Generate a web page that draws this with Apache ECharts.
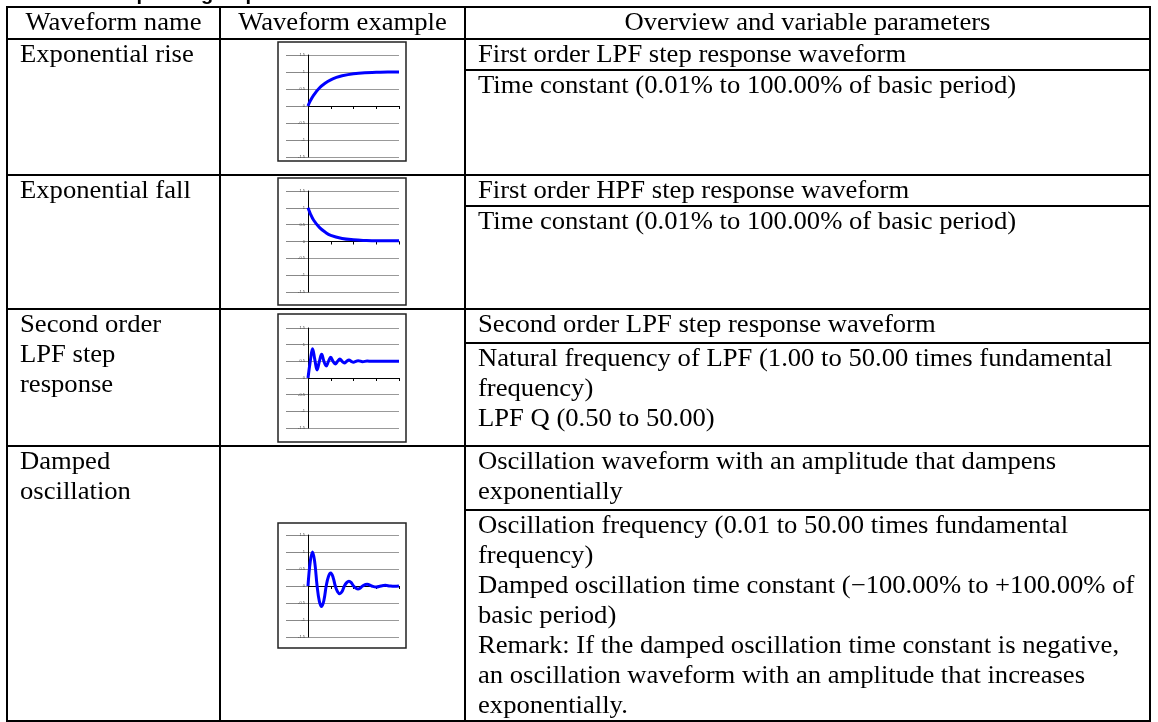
<!DOCTYPE html>
<html>
<head>
<meta charset="utf-8">
<script src="https://cdn.jsdelivr.net/npm/echarts@6/dist/echarts.min.js"></script>
<style>
html,body{margin:0;padding:0;background:#fff;}
#chart{width:1158px;height:722px;}
</style>
</head>
<body>
<div id="chart"></div>
<script>
// ---------- data ----------
const sectionTitle = 'Transient response group';
const headers = ['Waveform name', 'Waveform example', 'Overview and variable parameters'];
const waveNames = [
  ['Exponential rise'],
  ['Exponential fall'],
  ['Second order', 'LPF step', 'response'],
  ['Damped', 'oscillation']
];
const overviews = [
  ['First order LPF step response waveform'],
  ['First order HPF step response waveform'],
  ['Second order LPF step response waveform'],
  ['Oscillation waveform with an amplitude that dampens', 'exponentially']
];
const parameters = [
  ['Time constant (0.01% to 100.00% of basic period)'],
  ['Time constant (0.01% to 100.00% of basic period)'],
  ['Natural frequency of LPF (1.00 to 50.00 times fundamental', 'frequency)', 'LPF Q (0.50 to 50.00)'],
  ['Oscillation frequency (0.01 to 50.00 times fundamental', 'frequency)',
   'Damped oscillation time constant (\u2212100.00% to +100.00% of', 'basic period)',
   'Remark: If the damped oscillation time constant is negative,',
   'an oscillation waveform with an amplitude that increases', 'exponentially.']
];
const yTickLabels = ['-1.5', '-1', '-0.5', '0', '0.5', '1', '1.5'];

const riseData = [[0,0],[0.1,0.15],[0.25,0.32],[0.5,0.53],[0.75,0.67],[1,0.77],[1.25,0.84],[1.5,0.89],[2,0.95],[2.5,0.98],[3,0.99],[3.5,1],[4,1]];
const fallData = [[0,1],[0.1,0.83],[0.25,0.63],[0.5,0.42],[0.75,0.28],[1,0.18],[1.5,0.09],[2,0.05],[2.5,0.03],[3,0.02],[3.5,0.02],[4,0.02]];
const lpfData = [[0,0],[0.1,0.5],[0.2,0.88],[0.3,0.55],[0.4,0.24],[0.5,0.5],[0.6,0.71],[0.7,0.5],[0.8,0.36],[0.9,0.5],[1.0,0.62],[1.1,0.5],[1.2,0.42],[1.3,0.5],[1.4,0.57],[1.5,0.5],[1.6,0.45],[1.7,0.5],[1.8,0.54],[1.9,0.5],[2.0,0.47],[2.1,0.5],[2.2,0.52],[2.4,0.49],[2.6,0.51],[2.8,0.5],[3,0.5],[3.5,0.5],[4,0.5]];
const dampData = [[0,0],[0.1,0.72],[0.2,1.0],[0.3,0.68],[0.4,0],[0.5,-0.45],[0.6,-0.6],[0.7,-0.42],[0.8,0],[0.9,0.28],[1.0,0.38],[1.1,0.26],[1.2,0],[1.3,-0.17],[1.4,-0.23],[1.5,-0.16],[1.6,0],[1.7,0.1],[1.8,0.14],[1.9,0.1],[2.0,0],[2.1,-0.06],[2.2,-0.09],[2.3,-0.06],[2.4,0],[2.6,0.05],[2.8,0],[3.0,-0.03],[3.2,0],[3.4,0.02],[3.6,0],[3.8,-0.01],[4.0,0]];
const waveData = [riseData, fallData, lpfData, dampData];

// ---------- layout ----------
const colX = [7, 220, 465, 1150];
const rowY = [7, 39, 175, 309, 446, 721];
const subY = [70, 206, 343, 510];
const lineH = 30;
const fontMain = '25px "Liberation Serif", "Times New Roman", serif';
const textScaleX = 1.065;
const boxes = [
  {x: 278, y: 42, w: 128, h: 119, plotTop: 55, plotH: 102},
  {x: 278, y: 178, w: 128, h: 127, plotTop: 191, plotH: 101},
  {x: 278, y: 314, w: 128, h: 128, plotTop: 328, plotH: 100},
  {x: 278, y: 523, w: 128, h: 125, plotTop: 535, plotH: 102}
];
const plotLeft = 308, plotW = 91;

const graphics = [];
function hline(y, x1, x2) {
  graphics.push({type: 'line', shape: {x1: x1, y1: y, x2: x2, y2: y}, style: {stroke: '#000', lineWidth: 2}, z: 50});
}
function vline(x, y1, y2) {
  graphics.push({type: 'line', shape: {x1: x, y1: y1, x2: x, y2: y2}, style: {stroke: '#000', lineWidth: 2}, z: 50});
}
function txt(s, x, y, align) {
  graphics.push({type: 'text', x: x, y: y, z: 60, scaleX: textScaleX,
    style: {text: s, font: fontMain, fill: '#000', textAlign: align || 'left', textVerticalAlign: 'middle'}});
}

// title fragment (cut at top)
graphics.push({type: 'text', x: 12, y: -6, z: 60,
  style: {text: sectionTitle, font: 'bold 20px "Liberation Sans", Arial, sans-serif', fill: '#000', textAlign: 'left', textVerticalAlign: 'middle'}});

// table grid
rowY.forEach(function (y) { hline(y, colX[0] - 1, colX[3] + 1); });
colX.forEach(function (x) { vline(x, rowY[0], rowY[5]); });
subY.forEach(function (y) { hline(y, colX[2], colX[3] + 1); });

// header
headers.forEach(function (h, i) { txt(h, (colX[i] + colX[i + 1]) / 2, (rowY[0] + rowY[1]) / 2, 'center'); });

// rows
for (let r = 0; r < 4; r++) {
  const top = rowY[r + 1];
  waveNames[r].forEach(function (s, k) { txt(s, 20, top + 16 + k * lineH); });
  overviews[r].forEach(function (s, k) { txt(s, 478, top + 16 + k * lineH); });
  parameters[r].forEach(function (s, k) { txt(s, 478, subY[r] + 16 + k * lineH); });
  const b = boxes[r];
  graphics.push({type: 'rect', shape: {x: b.x, y: b.y, width: b.w, height: b.h},
    style: {stroke: '#222', lineWidth: 1.5, fill: 'rgba(0,0,0,0)'}, z: 40});
}

const grids = [], xAxes = [], yAxes = [], series = [];
boxes.forEach(function (b, i) {
  grids.push({left: plotLeft, top: b.plotTop, width: plotW, height: b.plotH, containLabel: false});
  xAxes.push({type: 'value', gridIndex: i, min: 0, max: 4, interval: 1,
    axisLine: {show: true, onZero: true, lineStyle: {color: '#000', width: 1}},
    axisTick: {show: true, length: 3, lineStyle: {color: '#000', width: 1}},
    axisLabel: {show: false}, splitLine: {show: false}});
  yAxes.push({type: 'value', gridIndex: i, min: -1.5, max: 1.5, interval: 0.5,
    axisLine: {show: true, lineStyle: {color: '#000', width: 1}},
    axisTick: {show: true, length: 22, lineStyle: {color: '#888', width: 1}},
    axisLabel: {show: true, fontSize: 4, color: '#444', margin: 3,
      formatter: function (v) { return yTickLabels[Math.round((v + 1.5) / 0.5)]; }},
    splitLine: {show: true, lineStyle: {color: '#999', width: 1}}});
  series.push({type: 'line', xAxisIndex: i, yAxisIndex: i, data: waveData[i],
    showSymbol: false, smooth: 0.4, lineStyle: {color: '#0000ff', width: 3}, z: 5});
});

const chart = echarts.init(document.getElementById('chart'), null, {renderer: 'canvas'});
chart.setOption({
  animation: false,
  backgroundColor: '#fff',
  grid: grids, xAxis: xAxes, yAxis: yAxes, series: series,
  graphic: graphics
});
</script>
</body>
</html>
